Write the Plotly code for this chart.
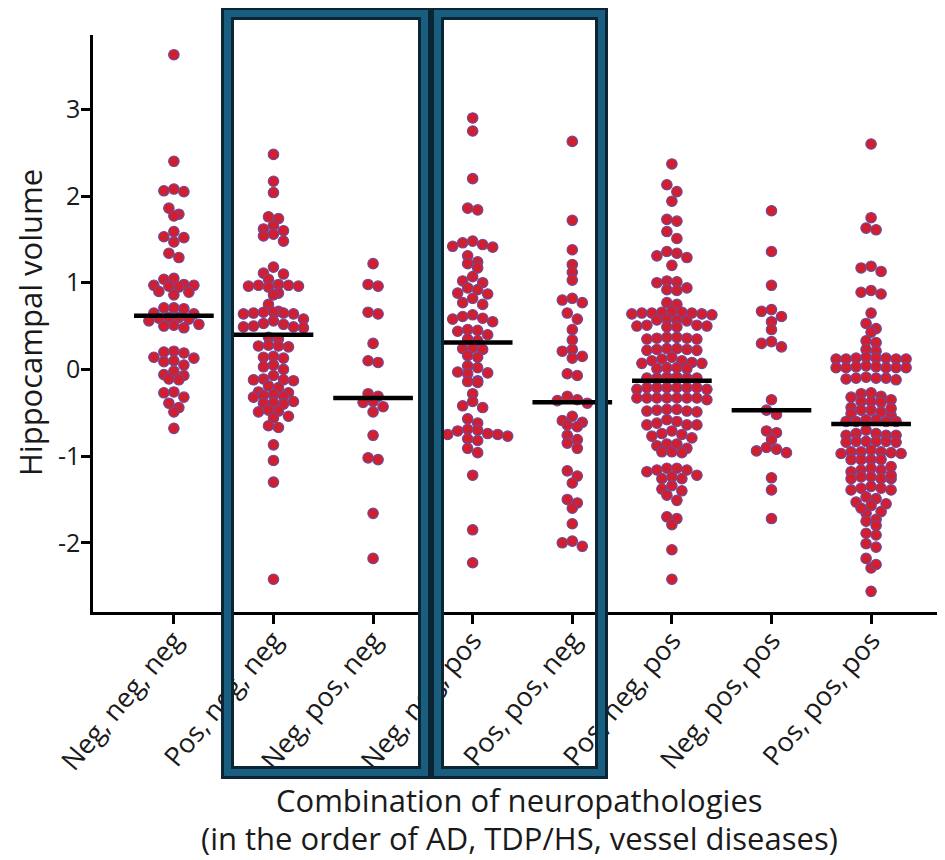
import numpy as np
import plotly.graph_objects as go

categories = ["Neg, neg, neg", "Pos, neg, neg", "Neg, pos, neg", "Neg, neg, pos",
              "Pos, pos, neg", "Pos, neg, pos", "Neg, pos, pos", "Pos, pos, pos"]

g1 = [3.63, 2.40, 2.05, 2.06, 2.08, 1.86, 1.79, 1.77, 1.59, 1.53, 1.52, 1.47, 1.34, 1.29,
      1.04, 1.05, 0.98, 0.97, 0.96, 0.95, 0.97, 0.90, 0.89, 0.86, 0.71, 0.71, 0.70, 0.65, 0.64,
      0.60, 0.60, 0.59, 0.58, 0.56, 0.52, 0.50, 0.48, 0.51, 0.21, 0.20, 0.19, 0.14, 0.13,
      0.10, 0.09, 0.05, -0.02, -0.06, -0.07, -0.11, -0.12, -0.26, -0.27, -0.32, -0.39,
      -0.44, -0.49, -0.68]
g2 = [2.48, 2.17, 2.04, 1.76, 1.74, 1.66, 1.62, 1.60, 1.56, 1.54, 1.48, 1.18, 1.11, 1.10,
      1.04, 0.98, 0.97, 0.97, 0.96, 0.96, 0.95, 0.88, 0.86, 0.75, 0.67, 0.66, 0.66, 0.65,
      0.65, 0.64, 0.64, 0.58, 0.56, 0.53, 0.50, 0.49, 0.49, 0.48, 0.52, 0.37, 0.35, 0.28,
      0.27, 0.27, 0.26, 0.15, 0.14, 0.13, 0.05, 0.03, 0.0, -0.07, -0.11, -0.12, -0.13,
      -0.12, -0.19, -0.21, -0.26, -0.27, -0.30, -0.31, -0.32, -0.29, -0.37, -0.39, -0.38,
      -0.40, -0.47, -0.48, -0.49, -0.54, -0.56, -0.65, -0.67, -0.87, -1.05, -1.30, -2.42]
g3 = [1.22, 0.98, 0.96, 0.66, 0.64, 0.30, 0.10, 0.08, -0.28, -0.31, -0.37, -0.38, -0.43,
      -0.49, -0.76, -1.02, -1.04, -1.66, -2.18]
g4 = [2.90, 2.75, 2.20, 1.86, 1.84, 1.48, 1.46, 1.42, 1.41, 1.44, 1.31, 1.24, 1.22, 1.17,
      1.07, 1.02, 1.00, 0.94, 0.92, 0.88, 0.87, 0.82, 0.77, 0.75, 0.63, 0.61, 0.59, 0.58,
      0.55, 0.46, 0.45, 0.44, 0.40, 0.35, 0.33, 0.25, 0.24, 0.23, 0.16, 0.14, 0.04, 0.02,
      -0.03, -0.04, -0.05, -0.13, -0.14, -0.15, -0.28, -0.37, -0.42, -0.44, -0.57, -0.62,
      -0.69, -0.70, -0.71, -0.74, -0.75, -0.75, -0.76, -0.77, -0.80, -0.82, -0.91, -0.96,
      -1.22, -1.85, -2.23]
g5 = [2.63, 1.72, 1.38, 1.21, 1.12, 1.03, 0.82, 0.80, 0.77, 0.65, 0.58, 0.46, 0.34, 0.23,
      0.21, 0.15, 0.13, -0.05, -0.07, -0.31, -0.35, -0.36, -0.39, -0.54, -0.59, -0.61,
      -0.64, -0.66, -0.76, -0.81, -0.85, -0.91, -1.17, -1.23, -1.31, -1.50, -1.54, -1.60,
      -1.78, -1.98, -2.00, -2.04]
g6 = [2.37, 2.13, 2.05, 1.94, 1.73, 1.71, 1.59, 1.51, 1.36, 1.34, 1.31, 1.29, 1.20, 1.02,
      1.01, 1.00, 0.94, 0.92, 0.91, 0.77, 0.75,
      0.67, 0.66, 0.65, 0.65, 0.64, 0.64, 0.63, 0.66, 0.65,
      0.58, 0.57, 0.57, 0.56,
      0.51, 0.50, 0.49, 0.49, 0.50, 0.51,
      0.37, 0.36, 0.35, 0.35, 0.36, 0.37,
      0.24, 0.23, 0.22, 0.22, 0.23, 0.24,
      0.12, 0.10, 0.07, 0.07, 0.08, 0.10, 0.14,
      0.01, 0.02, 0.02, 0.01,
      -0.10, -0.10, -0.09, -0.09, -0.10, -0.10,
      -0.21, -0.23, -0.21, -0.21, -0.21, -0.23, -0.21, -0.21,
      -0.33, -0.35, -0.33, -0.33, -0.33, -0.33, -0.33, -0.33,
      -0.47, -0.49, -0.46, -0.48, -0.48, -0.46,
      -0.60, -0.64, -0.64, -0.64, -0.62, -0.58,
      -0.74, -0.77, -0.79, -0.75, -0.71,
      -0.86, -0.91, -0.95, -0.88, -0.86,
      -0.96, -0.95,
      -1.14, -1.16, -1.16, -1.18, -1.14,
      -1.26, -1.24, -1.26, -1.22,
      -1.38, -1.40, -1.34,
      -1.45, -1.51, -1.72, -1.70, -1.79, -2.08, -2.42]
g7 = [1.83, 1.36, 0.97, 0.69, 0.67, 0.61, 0.55, 0.46, 0.32, 0.30, 0.26, -0.35, -0.47,
      -0.52, -0.71, -0.73, -0.81, -0.90, -0.92, -0.94, -0.96, -1.25, -1.39, -1.72]
g8 = [2.60, 1.75, 1.63, 1.61, 1.19, 1.17, 1.13, 0.91, 0.89, 0.87, 0.65, 0.53, 0.47, 0.43,
      0.33, 0.31, 0.23, 0.21,
      0.13, 0.13, 0.12, 0.12, 0.12, 0.12, 0.13, 0.14,
      0.03, 0.02, 0.02, 0.02, 0.02, 0.02, 0.03, 0.04,
      -0.10, -0.10, -0.12, -0.11, -0.10, -0.09,
      -0.28, -0.32, -0.31, -0.27, -0.37, -0.38, -0.37, -0.35,
      -0.47, -0.53, -0.47, -0.44, -0.49, -0.51, -0.45,
      -0.58, -0.60, -0.60, -0.60, -0.60, -0.58,
      -0.74, -0.76, -0.76, -0.76, -0.74, -0.70,
      -0.83, -0.83, -0.84, -0.84, -0.83, -0.83,
      -0.97, -0.97, -0.95, -0.95, -0.95, -0.93, -0.96,
      -1.04, -1.04, -1.04, -1.04,
      -1.14, -1.16, -1.18, -1.16, -1.12,
      -1.24, -1.26, -1.26, -1.26, -1.24, -1.22,
      -1.37, -1.39, -1.39, -1.37, -1.35,
      -1.49, -1.47,
      -1.55, -1.57, -1.53, -1.64, -1.66, -1.60,
      -1.75, -1.73, -1.80,
      -1.91, -1.89, -2.05, -2.01,
      -2.18, -2.29, -2.25,
      -2.56]
groups = [g1, g2, g3, g4, g5, g6, g7, g8]
medians = [0.62, 0.40, -0.33, 0.31, -0.38, -0.13, -0.47, -0.63]

y_ticks = [3, 2, 1, 0, -1, -2]
y_ticktext = ["3", "2", "1", "0", "-1", "-2"]

# ---- layout geometry (page has an 8px body margin) ----
OFF = 8
W, H = 945 - OFF, 860 - OFF
ML, MR, MT = 93 - OFF, 0, 35 - OFF
MB = H - (612 - OFF)
XR = [-0.812, 7.742]
YR = [-2.798, 3.857]
pw = W - ML - MR
ph = H - MT - MB
px_per_x = pw / (XR[1] - XR[0])
px_per_y = ph / (YR[1] - YR[0])
STEP = 10.0          # horizontal spacing of dots in a row (px)
ROW_TOL = 7.4        # px: points closer than this to a row's top share the row


def row_offsets(vals):
    v = np.asarray(vals, float)
    order = np.argsort(-v, kind="stable")
    out = np.zeros(len(v))
    rows, cur, top = [], [], None
    for idx in order:
        y = v[idx] * px_per_y
        if top is None or top - y > ROW_TOL:
            if cur:
                rows.append(cur)
            cur, top = [idx], y
        else:
            cur.append(idx)
    if cur:
        rows.append(cur)
    for r in rows:
        n = len(r)
        slots = [(k - (n - 1) / 2) * STEP for k in range(n)]
        slots.sort(key=lambda s: (abs(s), s))
        for idx, s in zip(r, slots):
            out[idx] = s
    return out / px_per_x


fig = go.Figure()
for i, g in enumerate(groups):
    offs = row_offsets(g)
    fig.add_trace(go.Scatter(
        x=i + offs, y=g, mode="markers",
        marker=dict(size=10.5, color="#d21f30", line=dict(color="#6a4a9c", width=1.1)),
        showlegend=False, hoverinfo="y"))
for i, m in enumerate(medians):
    fig.add_trace(go.Scatter(x=[i - 0.4, i + 0.4], y=[m, m], mode="lines",
                             line=dict(color="black", width=4.5), showlegend=False))


def px2paper_x(px):
    return (px - OFF - ML) / pw


def px2paper_y(py):
    return (H - MB - (py - OFF)) / ph


shapes = []
for (x0, x1) in [(221, 431), (431, 608)]:
    y0, y1 = 7, 779
    t = 13
    rect = dict(type="rect", xref="paper", yref="paper",
                x0=px2paper_x(x0 + t / 2), x1=px2paper_x(x1 - t / 2),
                y0=px2paper_y(y0 + t / 2), y1=px2paper_y(y1 - t / 2),
                fillcolor="rgba(0,0,0,0)", layer="above")
    shapes.append({**rect, "line": dict(color="#0b2535", width=t)})
    shapes.append({**rect, "line": dict(color="#1a5e7f", width=7)})

font_family = "Open Sans, Noto Sans, sans-serif"
fig.update_layout(
    width=W, height=H,
    margin=dict(l=ML, r=MR, t=MT, b=MB, pad=0),
    paper_bgcolor="white", plot_bgcolor="rgba(0,0,0,0)",
    font=dict(family=font_family, color="#1a1a1a"),
    showlegend=False,
    shapes=shapes,
    xaxis=dict(range=XR, showgrid=False, zeroline=False, showline=True,
               linecolor="black", linewidth=2.5, ticks="outside", ticklen=9,
               tickwidth=2.5, tickcolor="black",
               tickvals=list(range(len(categories))), ticktext=categories,
               tickangle=-50, ticklabelstandoff=-10,
               tickfont=dict(size=27, color="#1a1a1a")),
    yaxis=dict(range=YR, showgrid=False, zeroline=False, showline=True,
               linecolor="black", linewidth=2.5, ticks="outside", ticklen=9,
               tickwidth=2.5, tickcolor="black",
               tickvals=y_ticks, ticktext=y_ticktext, ticklabelstandoff=-4,
               tickfont=dict(size=25, color="#1a1a1a")),
    annotations=[
        dict(text="Combination of neuropathologies", xref="paper", yref="paper",
             x=px2paper_x(519), y=px2paper_y(800), xanchor="center", yanchor="middle",
             showarrow=False, font=dict(size=31, color="#1a1a1a")),
        dict(text="(in the order of AD, TDP/HS, vessel diseases)", xref="paper", yref="paper",
             x=px2paper_x(519), y=px2paper_y(838), xanchor="center", yanchor="middle",
             showarrow=False, font=dict(size=31, color="#1a1a1a")),
        dict(text="Hippocampal volume", xref="paper", yref="paper",
             x=px2paper_x(30), y=px2paper_y(323), xanchor="center", yanchor="middle",
             textangle=-90, showarrow=False, font=dict(size=31, color="#1a1a1a")),
    ],
)
fig.write_html("out.html")
